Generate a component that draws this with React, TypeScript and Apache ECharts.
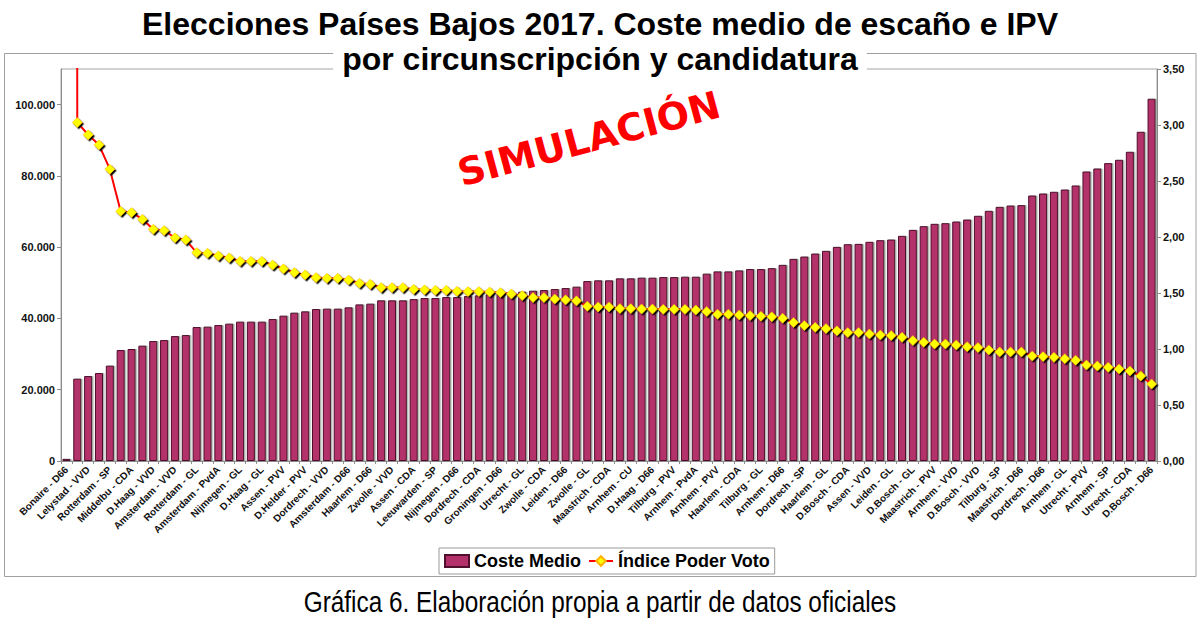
import React, { useEffect, useRef } from "react";
import * as echarts from "echarts";

// Visible tick labels (every other category)
const shownLabels: string[] = [
  "Bonaire - D66", "Lelystad - VVD", "Rotterdam - SP", "Middelbu - CDA", "D.Haag - VVD",
  "Amsterdam - VVD", "Rotterdam - GL", "Amsterdam - PvdA", "Nijmegen - GL", "D.Haag - GL",
  "Assen - PVV", "D.Helder - PVV", "Dordrech - VVD", "Amsterdam - D66", "Haarlem - D66",
  "Zwolle - VVD", "Assen - CDA", "Leeuwarden - SP", "Nijmegen - D66", "Dordrech - CDA",
  "Groningen - D66", "Utrecht - GL", "Zwolle - CDA", "Leiden - D66", "Zwolle - GL",
  "Maastrich - CDA", "Arnhem - CU", "D.Haag - D66", "Tilburg - PVV", "Arnhem - PvdA",
  "Arnhem - PVV", "Haarlem - CDA", "Tilburg - GL", "Arnhem - D66", "Dordrech - SP",
  "Haarlem - GL", "D.Bosch - CDA", "Assen - VVD", "Leiden - GL", "D.Bosch - GL",
  "Maastrich - PVV", "Arnhem - VVD", "D.Bosch - VVD", "Tilburg - SP", "Maastrich - D66",
  "Dordrech - D66", "Arnhem - GL", "Utrecht - PVV", "Arnhem - SP", "Utrecht - CDA",
  "D.Bosch - D66",
];

// Coste medio de escaño (left axis)
const costeMedio: number[] = [
  600, 23100, 23840, 24690, 26760, 31140, 31420, 32370, 33660, 33940,
  35060, 35340, 37590, 37700, 38150, 38540, 39100, 39100, 39100, 39830,
  40780, 41620, 41990, 42640, 42750, 42750, 43110, 43950, 44150, 45080,
  45080, 45080, 45430, 45720, 45720, 46000, 46000, 46280, 46480, 46760,
  46950, 47230, 47510, 47790, 47970, 48250, 48530, 48920, 50490, 50690,
  50690, 51250, 51250, 51440, 51440, 51610, 51610, 51720, 51720, 52570,
  53210, 53210, 53490, 53860, 53860, 54120, 55040, 56720, 57370, 58210,
  58970, 60090, 60840, 60930, 61500, 61970, 62150, 63180, 64860, 65900,
  66550, 66740, 67200, 67760, 68800, 70200, 71320, 71690, 71800, 74500,
  75060, 75540, 76180, 77310, 81240, 82080, 83590, 84520, 86770, 92380,
  101650,
];

// Índice Poder Voto (right axis)
const indicePoderVoto: number[] = [
  116, 3.023, 2.913, 2.823, 2.606, 2.231, 2.219, 2.159, 2.07, 2.058,
  1.993, 1.975, 1.861, 1.856, 1.832, 1.814, 1.784, 1.784, 1.784, 1.751,
  1.716, 1.683, 1.662, 1.638, 1.632, 1.632, 1.617, 1.588, 1.579, 1.549,
  1.549, 1.549, 1.534, 1.528, 1.525, 1.525, 1.516, 1.513, 1.513, 1.51,
  1.504, 1.492, 1.477, 1.459, 1.459, 1.447, 1.439, 1.43, 1.382, 1.376,
  1.376, 1.361, 1.361, 1.358, 1.358, 1.355, 1.355, 1.355, 1.349, 1.334,
  1.311, 1.311, 1.304, 1.298, 1.293, 1.288, 1.275, 1.236, 1.209, 1.194,
  1.182, 1.162, 1.147, 1.147, 1.135, 1.126, 1.12, 1.105, 1.075, 1.06,
  1.045, 1.045, 1.036, 1.021, 1.013, 0.992, 0.974, 0.974, 0.974, 0.938,
  0.932, 0.926, 0.914, 0.9, 0.858, 0.849, 0.837, 0.822, 0.804, 0.759,
  0.688,
];

const categories: string[] = costeMedio.map((_, i) =>
  i % 2 === 0 ? shownLabels[i / 2] : ""
);

const FONT = '"Liberation Sans", Arial, sans-serif';

function fmtThousands(v: number): string {
  return String(Math.round(v)).replace(/\B(?=(\d{3})+(?!\d))/g, ".");
}

export default function App() {
  const ref = useRef<HTMLDivElement>(null);
  useEffect(() => {
    document.body.style.margin = "0";
    if (!ref.current) return;
    const chart = echarts.init(ref.current, undefined, { renderer: "svg" });
    const axisGray = "#8c8c8c";
    const option: any = {
      animation: false,
      backgroundColor: "#ffffff",
      textStyle: { fontFamily: FONT },
      grid: {
        left: 61,
        right: 43,
        top: 69,
        bottom: 169,
        show: true,
        borderColor: "#a6a6a6",
        borderWidth: 1,
        backgroundColor: "transparent",
      },
      legend: {
        left: 439,
        top: 548,
        padding: [4, 5, 4, 5],
        itemGap: 7,
        itemWidth: 24,
        itemHeight: 12,
        borderColor: "#9a9a9a",
        borderWidth: 1,
        backgroundColor: "#ffffff",
        textStyle: { fontSize: 18, fontWeight: "bold", color: "#000", fontFamily: FONT },
        data: [
          { name: "Coste Medio", icon: "rect" },
          { name: "Índice Poder Voto" },
        ],
      },
      xAxis: {
        type: "category",
        data: categories,
        boundaryGap: true,
        axisLine: { show: true, lineStyle: { color: axisGray } },
        axisTick: { show: true, interval: 0, length: 3, lineStyle: { color: axisGray } },
        axisLabel: {
          interval: 0,
          rotate: 45,
          fontSize: 10,
          fontWeight: "bold",
          color: "#111",
          margin: 7,
          fontFamily: FONT,
        },
        splitLine: { show: false },
      },
      yAxis: [
        {
          type: "value",
          position: "left",
          min: 0,
          max: 110000,
          interval: 20000,
          axisLine: { show: true, lineStyle: { color: axisGray } },
          axisTick: { show: true, length: 4, lineStyle: { color: axisGray } },
          splitLine: { show: false },
          axisLabel: {
            showMaxLabel: false,
            fontSize: 11,
            fontWeight: "bold",
            color: "#111",
            margin: 6,
            fontFamily: FONT,
            formatter: (v: number) => (v > 100000 ? "" : fmtThousands(v)),
          },
        },
        {
          type: "value",
          position: "right",
          min: 0,
          max: 3.5,
          interval: 0.5,
          axisLine: { show: true, lineStyle: { color: axisGray } },
          axisTick: { show: true, length: 4, lineStyle: { color: axisGray } },
          splitLine: { show: false },
          axisLabel: {
            fontSize: 11,
            fontWeight: "bold",
            color: "#111",
            margin: 6,
            fontFamily: FONT,
            formatter: (v: number) => v.toFixed(2).replace(".", ","),
          },
        },
      ],
      series: [
        {
          name: "Coste Medio",
          type: "bar",
          data: costeMedio,
          barCategoryGap: "26%",
          itemStyle: {
            color: "#b3306a",
            borderColor: "#4f0f2d",
            borderWidth: 1,
            shadowColor: "rgba(110,125,115,0.55)",
            shadowOffsetX: 1.5,
            shadowOffsetY: 0,
            shadowBlur: 0,
          },
        },
        {
          name: "Índice Poder Voto",
          type: "line",
          yAxisIndex: 1,
          data: indicePoderVoto,
          clip: true,
          symbol: "diamond",
          symbolSize: 10,
          showAllSymbol: true,
          z: 5,
          lineStyle: { color: "#ff0000", width: 2 },
          itemStyle: {
            color: "#ffff00",
            borderColor: "#ffb000",
            borderWidth: 0.5,
            shadowColor: "#000000",
            shadowOffsetX: 1.5,
            shadowOffsetY: 1.5,
            shadowBlur: 0,
          },
        },
      ],
      graphic: [
        {
          type: "rect",
          z: -10,
          silent: true,
          shape: { x: 4.5, y: 53.5, width: 1191.5, height: 523 },
          style: { fill: "none", stroke: "#a0a0a0", lineWidth: 1 },
        },
        {
          type: "text",
          z: 100,
          x: 600,
          y: 24,
          style: {
            text: "Elecciones Países Bajos 2017. Coste medio de escaño e IPV",
            font: `bold 32px ${FONT}`,
            fill: "#000",
            textAlign: "center",
            align: "center",
            textVerticalAlign: "middle",
            verticalAlign: "middle",
          },
        },
        {
          type: "text",
          z: 100,
          x: 600,
          y: 59,
          style: {
            text: "por circunscripción y candidatura",
            font: `bold 32px ${FONT}`,
            fill: "#000",
            textAlign: "center",
            align: "center",
            textVerticalAlign: "middle",
            verticalAlign: "middle",
            backgroundColor: "#ffffff",
            padding: [2, 9, 2, 9],
          },
        },
        {
          type: "text",
          z: 100,
          x: 589,
          y: 139,
          rotation: (15 * Math.PI) / 180,
          style: {
            text: "SIMULACIÓN",
            font: `bold 38px "DejaVu Sans", sans-serif`,
            fill: "#ff0000",
            textAlign: "center",
            align: "center",
            textVerticalAlign: "middle",
            verticalAlign: "middle",
          },
        },
        {
          type: "text",
          z: 100,
          x: 600,
          y: 602,
          scaleX: 0.82,
          style: {
            text: "Gráfica 6. Elaboración propia a partir de datos oficiales",
            font: `29.7px ${FONT}`,
            fill: "#000",
            textAlign: "center",
            align: "center",
            textVerticalAlign: "middle",
            verticalAlign: "middle",
          },
        },
      ],
    };
    chart.setOption(option);
    return () => {
      chart.dispose();
    };
  }, []);
  return (
    <div
      ref={ref}
      style={{ position: "absolute", left: 0, top: 0, width: 1200, height: 630 }}
    />
  );
}
